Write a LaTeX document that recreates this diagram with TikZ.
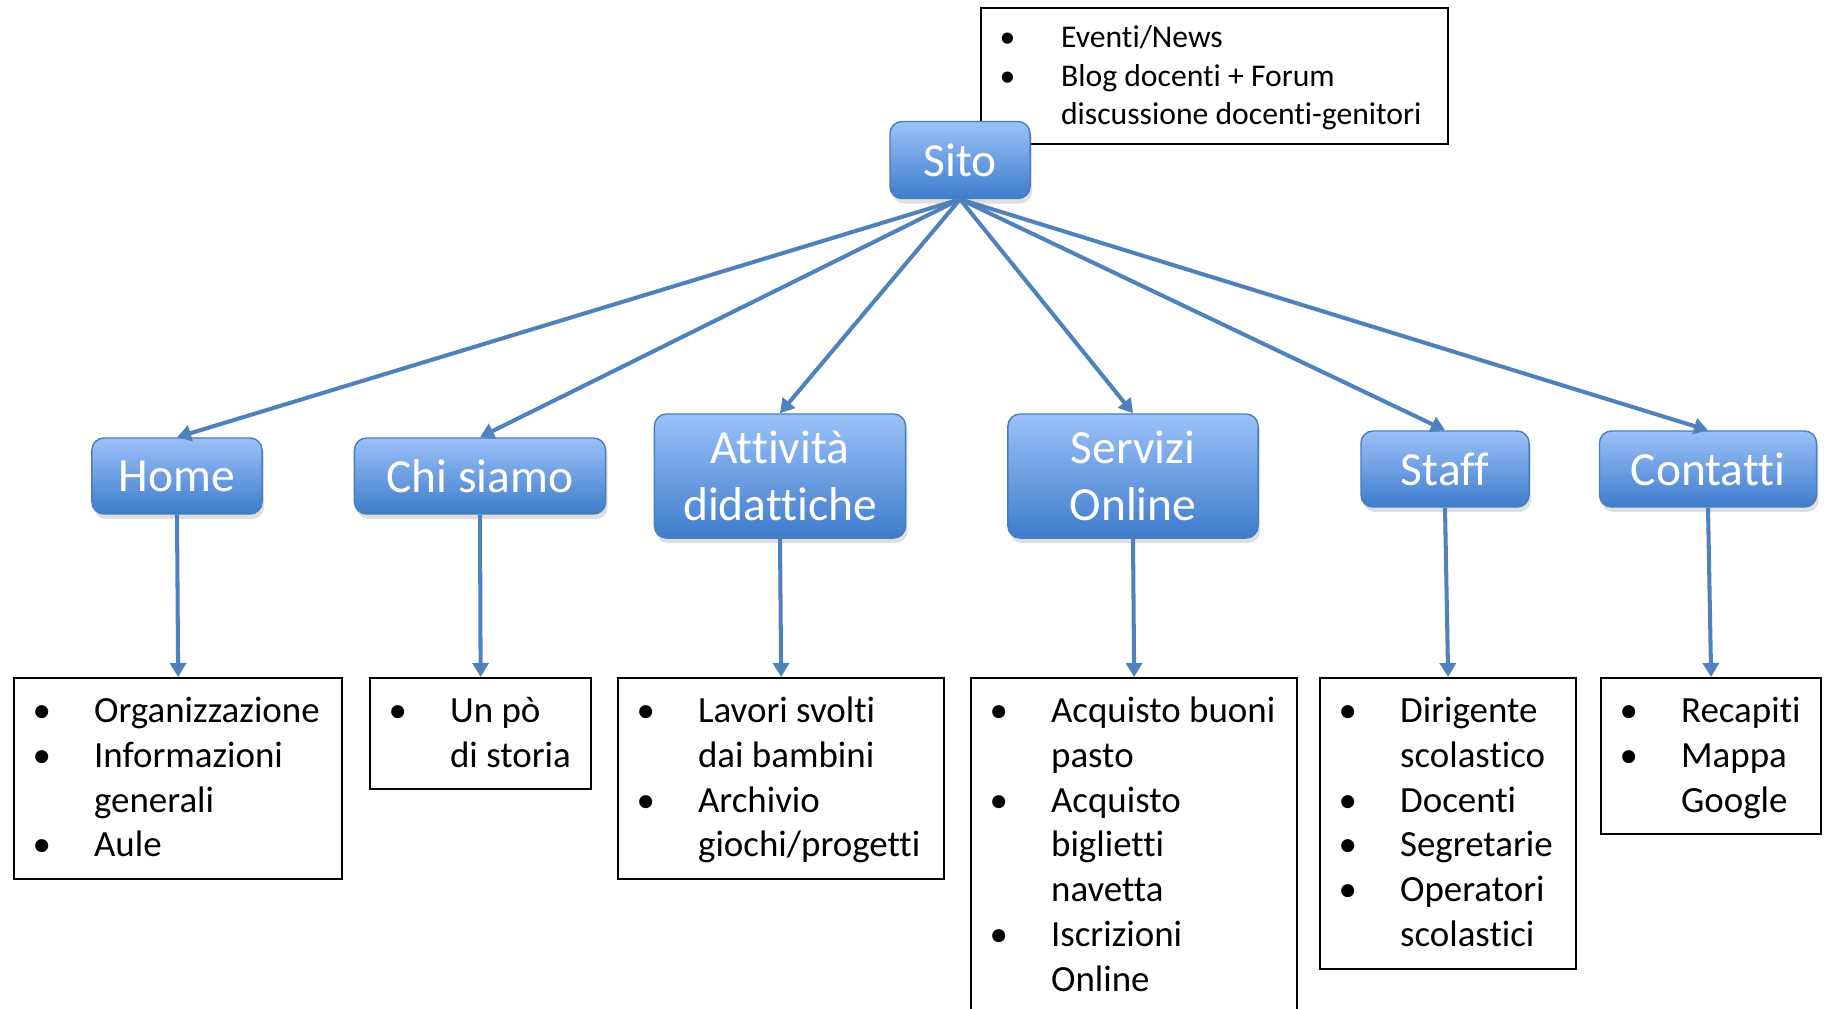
\documentclass[tikz,border=0pt]{standalone}
\usepackage{fontspec}
\setmainfont{Carlito}[Ligatures=NoCommon]
\usetikzlibrary{arrows.meta,shadows}

\definecolor{bordoblu}{RGB}{74,126,187}
\definecolor{blusu}{RGB}{155,193,248}
\definecolor{blugiu}{RGB}{62,124,204}
\definecolor{blufreccia}{RGB}{79,129,189}

\newcommand{\voce}[1]{\par\noindent\hangindent=0.8cm\hangafter=1\relax\makebox[0.8cm][l]{\hspace{0.185cm}\textbullet}\strut#1\par}
\newcommand{\lista}[3]{\parbox[t][#2][t]{#1}{\raggedright\let\\\newline\vspace*{0.13cm}#3}}

\begin{document}
\begin{tikzpicture}[x=0.01cm, y=-0.01cm,
    pagina/.style={draw=bordoblu, rounded corners=0.12cm, top color=blusu, bottom color=blugiu, text=white, align=center, inner sep=0pt, font=\fontsize{13.5}{16.3}\selectfont, drop shadow={opacity=0.25, shadow xshift=0.02cm, shadow yshift=-0.05cm}},
    elenco/.style={draw, line width=0.6pt, fill=white, anchor=north west, inner sep=0pt, font=\fontsize{10.5}{12.75}\selectfont},
    freccia/.style={draw=blufreccia, line width=1.15pt, -{Triangle[width=0.16cm,length=0.14cm]}}]
    \useasboundingbox (0,0) rectangle (1825,1008);
    \clip (0,0) rectangle (1825,1008);

    \node[elenco, font=\fontsize{9}{10.9}\selectfont] (notizie) at (980,7) {\lista{4.67cm}{1.36cm}{\voce{Eventi/News}\voce{Blog docenti + Forum\\discussione docenti-genitori}}};
    \node[pagina, minimum width=1.40cm, minimum height=0.77cm] (sito) at (960,160) {Sito};

    \node[pagina, minimum width=1.70cm, minimum height=0.76cm] (home) at (177,476) {Home};
    \node[pagina, minimum width=2.51cm, minimum height=0.76cm] (chisiamo) at (480,476) {Chi siamo};
    \node[pagina, minimum width=2.51cm, minimum height=1.24cm] (attivita) at (780,476) {Attività\\didattiche};
    \node[pagina, minimum width=2.50cm, minimum height=1.24cm] (servizi) at (1133,476) {Servizi\\Online};
    \node[pagina, minimum width=1.68cm, minimum height=0.76cm] (staff) at (1445,469) {Staff};
    \node[pagina, minimum width=2.17cm, minimum height=0.76cm] (contatti) at (1708,469) {Contatti};

    \node[elenco] (listahome) at (13,677) {\lista{3.28cm}{2.01cm}{\voce{Organizzazione}\voce{Informazioni\\generali}\voce{Aule}}};
    \node[elenco] (listachisiamo) at (369,677) {\lista{2.21cm}{1.11cm}{\voce{Un pò\\di storia}}};
    \node[elenco] (listaattivita) at (617,677) {\lista{3.26cm}{2.01cm}{\voce{Lavori svolti\\dai bambini}\voce{Archivio\\giochi/progetti}}};
    \node[elenco] (listaservizi) at (970,677) {\lista{3.26cm}{3.45cm}{\voce{Acquisto buoni\\pasto}\voce{Acquisto\\biglietti\\navetta}\voce{Iscrizioni\\Online}}};
    \node[elenco] (listastaff) at (1319,677) {\lista{2.56cm}{2.91cm}{\voce{Dirigente\\scolastico}\voce{Docenti}\voce{Segretarie}\voce{Operatori\\scolastici}}};
    \node[elenco] (listacontatti) at (1600,677) {\lista{2.20cm}{1.56cm}{\voce{Recapiti}\voce{Mappa\\Google}}};

    \foreach \figlio in {home,chisiamo,attivita,servizi,staff,contatti}{
        \draw[freccia] (sito.south) -- (\figlio.north);
        \draw[freccia] (\figlio.south) -- (lista\figlio.north);
    }
\end{tikzpicture}
\end{document}
